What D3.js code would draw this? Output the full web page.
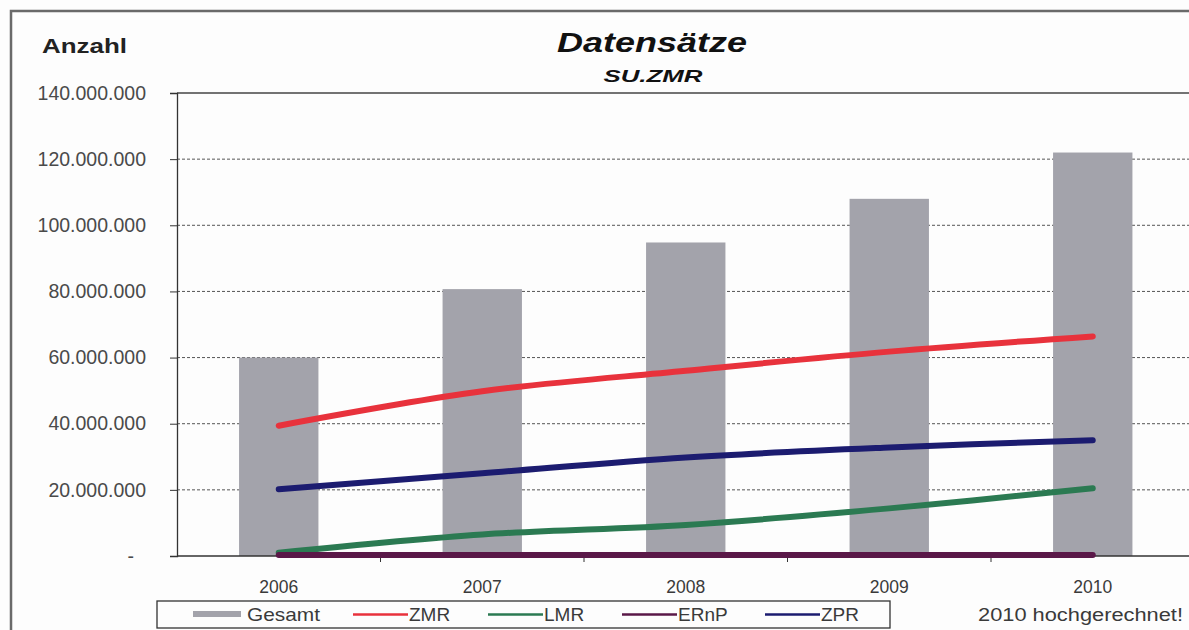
<!DOCTYPE html>
<html>
<head>
<meta charset="utf-8">
<script src="https://cdn.jsdelivr.net/npm/d3@7"></script>
<style>
  body { margin: 0; background: #fdfdfd; }
  svg text { font-family: "Liberation Sans", Arial, sans-serif; }
</style>
</head>
<body>
<svg id="chart"></svg>
<script>
// data
const years = ['2006', '2007', '2008', '2009', '2010']
const gesamt = [60000000, 80700000, 94800000, 108000000, 122000000]
const zmr = [39400000, 49800000, 56000000, 61800000, 66400000]
const lmr = [1000000, 6500000, 9400000, 14400000, 20500000]
const ernp = [300000, 300000, 300000, 300000, 300000]
const zpr = [20200000, 25000000, 29800000, 32800000, 35000000]
const yTicks = [0, 20000000, 40000000, 60000000, 80000000, 100000000, 120000000, 140000000]

const seriesNames = ['ZMR', 'LMR', 'ERnP', 'ZPR']
const seriesValues = [zmr, lmr, ernp, zpr]
const seriesColors = ['#e8323c', '#2b7a52', '#5a1848', '#1c1c70']

const svg = d3.select('#chart')
    .attr('width', 1189)
    .attr('height', 630)

// outer frame
svg.append('rect')
    .attr('x', 11).attr('y', 11)
    .attr('width', 1200).attr('height', 640)
    .attr('fill', '#fdfdfd')
    .attr('stroke', '#6a6a6a')
    .attr('stroke-width', 2.5)

const plotLeft = 177, plotTop = 93, plotBottom = 556, step = 203.5

const x = d3.scaleBand().domain(years).range([plotLeft, plotLeft + step * years.length])
const y = d3.scaleLinear().domain([0, 140000000]).range([plotBottom, plotTop])

const de = d3.formatLocale({ decimal: ',', thousands: '.', grouping: [3], currency: ['', ' €'] })
const fmt = de.format(',d')

// gridlines
svg.append('g').selectAll('line')
    .data(yTicks.filter(d => d > 0))
    .join('line')
    .attr('x1', plotLeft).attr('x2', 1189)
    .attr('y1', d => y(d)).attr('y2', d => y(d))
    .attr('stroke', d => d === 140000000 ? '#444' : '#555')
    .attr('stroke-width', d => d === 140000000 ? 1.3 : 1)
    .attr('stroke-dasharray', d => d === 140000000 ? null : '3,2')

// y axis
const yAxis = svg.append('g')
    .attr('transform', `translate(${plotLeft},0)`)
    .call(d3.axisLeft(y).tickValues(yTicks).tickSize(7).tickPadding(24)
        .tickFormat(d => d === 0 ? '-' : fmt(d)))
yAxis.select('.domain').attr('stroke', '#333').attr('stroke-width', 1.3)
yAxis.selectAll('.tick line').attr('stroke', '#333')
yAxis.selectAll('.tick text')
    .attr('font-size', 19.5)
    .attr('fill', '#4a4a4a')
    .attr('dx', d => d === 0 ? -12 : 0)

// bars
const bw = x.bandwidth() * 0.39
svg.append('g').selectAll('rect')
    .data(gesamt)
    .join('rect')
    .attr('x', (d, i) => x(years[i]) + (x.bandwidth() - bw) / 2)
    .attr('y', d => y(d))
    .attr('width', bw)
    .attr('height', d => plotBottom - y(d))
    .attr('fill', '#a3a3ab')

// x axis
svg.append('line')
    .attr('x1', plotLeft).attr('x2', 1189)
    .attr('y1', plotBottom).attr('y2', plotBottom)
    .attr('stroke', '#333').attr('stroke-width', 1.3)
svg.append('g').selectAll('line')
    .data(years.slice(1))
    .join('line')
    .attr('x1', d => x(d)).attr('x2', d => x(d))
    .attr('y1', plotBottom).attr('y2', plotBottom + 6)
    .attr('stroke', '#333')
svg.append('g').selectAll('text')
    .data(years)
    .join('text')
    .attr('x', d => x(d) + x.bandwidth() / 2)
    .attr('y', 593)
    .attr('text-anchor', 'middle')
    .attr('font-size', 17.5)
    .attr('fill', '#3a3a3a')
    .text(d => d)

// lines
const line = d3.line()
    .x((d, i) => x(years[i]) + x.bandwidth() / 2)
    .y(d => y(d))
    .curve(d3.curveCatmullRom.alpha(0.5))

svg.append('g').selectAll('path')
    .data(seriesValues)
    .join('path')
    .attr('d', d => line(d))
    .attr('fill', 'none')
    .attr('stroke', (d, i) => seriesColors[i])
    .attr('stroke-width', 6)
    .attr('stroke-linecap', 'round')

// titles
svg.append('text')
    .attr('x', 652).attr('y', 52)
    .attr('text-anchor', 'middle')
    .attr('font-size', 28).attr('font-weight', 'bold').attr('font-style', 'italic')
    .attr('fill', '#111')
    .attr('textLength', 190).attr('lengthAdjust', 'spacingAndGlyphs')
    .text('Datensätze')
svg.append('text')
    .attr('x', 653).attr('y', 82)
    .attr('text-anchor', 'middle')
    .attr('font-size', 17).attr('font-weight', 'bold').attr('font-style', 'italic')
    .attr('fill', '#111')
    .attr('textLength', 99).attr('lengthAdjust', 'spacingAndGlyphs')
    .text('SU.ZMR')
svg.append('text')
    .attr('x', 42).attr('y', 53)
    .attr('font-size', 21).attr('font-weight', 'bold')
    .attr('fill', '#222')
    .attr('textLength', 85).attr('lengthAdjust', 'spacingAndGlyphs')
    .text('Anzahl')

// legend
const legend = svg.append('g')
legend.append('rect')
    .attr('x', 157).attr('y', 601)
    .attr('width', 733).attr('height', 27)
    .attr('fill', 'none').attr('stroke', '#333').attr('stroke-width', 1.3)

legend.append('rect')
    .attr('x', 193).attr('y', 611)
    .attr('width', 48).attr('height', 6)
    .attr('fill', '#a3a3ab')
legend.append('text')
    .attr('x', 247).attr('y', 621)
    .attr('font-size', 19).attr('fill', '#3a3a3a')
    .attr('textLength', 73).attr('lengthAdjust', 'spacingAndGlyphs')
    .text('Gesamt')

const legX = [353, 488, 622, 765]
seriesNames.forEach((name, i) => {
    legend.append('line')
        .attr('x1', legX[i]).attr('x2', legX[i] + 55)
        .attr('y1', 614.5).attr('y2', 614.5)
        .attr('stroke', seriesColors[i]).attr('stroke-width', 2.4)
    legend.append('text')
        .attr('x', legX[i] + 56).attr('y', 621)
        .attr('font-size', 19).attr('fill', '#3a3a3a')
        .text(name)
})

svg.append('text')
    .attr('x', 1183).attr('y', 621)
    .attr('text-anchor', 'end')
    .attr('font-size', 18).attr('fill', '#3a3a3a')
    .attr('textLength', 205).attr('lengthAdjust', 'spacingAndGlyphs')
    .text('2010 hochgerechnet!')
</script>
</body>
</html>
